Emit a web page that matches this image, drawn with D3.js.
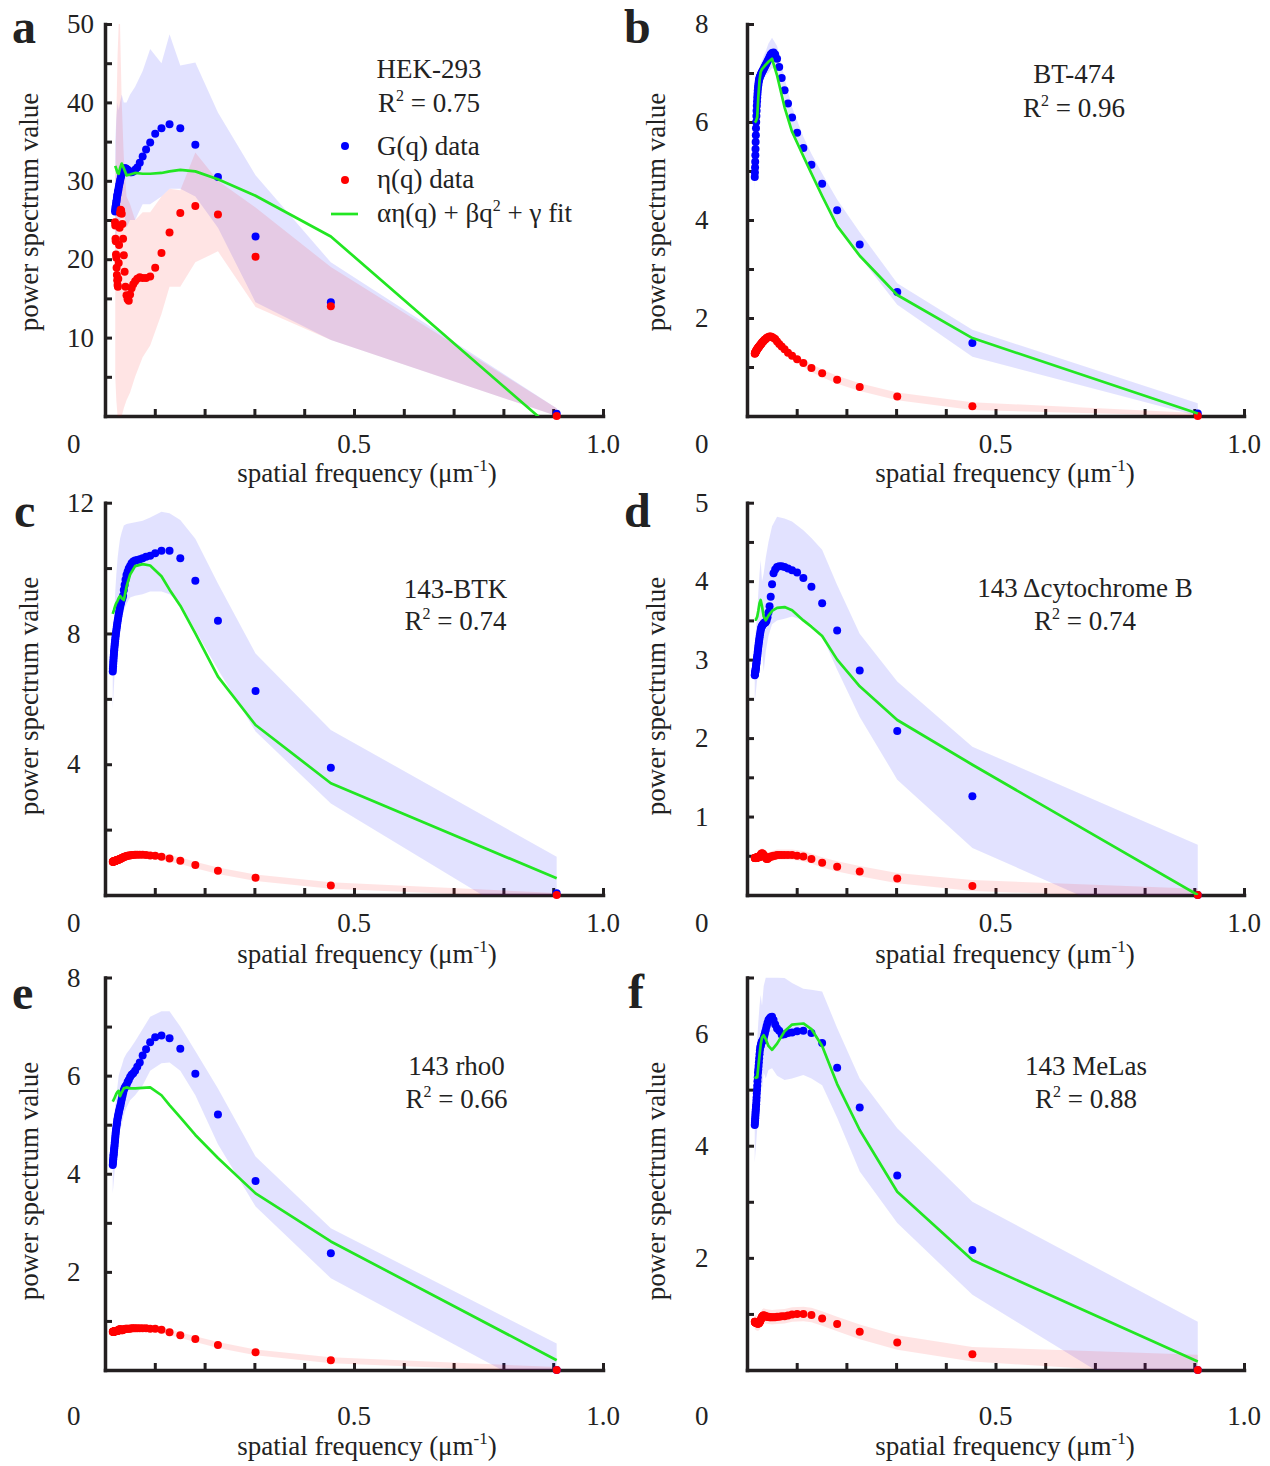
<!DOCTYPE html>
<html><head><meta charset="utf-8">
<script src="https://cdnjs.cloudflare.com/ajax/libs/d3/7.8.5/d3.min.js"></script>
<style>
body{margin:0;background:#fff}
svg{display:block}
text{font-family:"Liberation Serif","Times New Roman",serif;fill:#222}
</style>
</head><body>
<svg id="c" width="1270" height="1466"></svg>
<script>
// ---------- shared spatial-frequency grids (µm^-1) ----------
const Q = [0.907, 0.4535, 0.3023, 0.2268, 0.1814, 0.1512, 0.1296, 0.1134, 0.1008, 0.0907,
 0.0825, 0.0756, 0.0698, 0.0648, 0.0605, 0.0567, 0.0534, 0.0504, 0.0477, 0.0454,
 0.0432, 0.0412, 0.0394, 0.0378, 0.0363, 0.0349, 0.0336, 0.0324, 0.0313, 0.0302,
 0.0293, 0.0283, 0.0275, 0.0267, 0.0259, 0.0252, 0.0245, 0.0239, 0.0233, 0.0227,
 0.0221, 0.0216, 0.0211, 0.0206, 0.0202, 0.0197, 0.0193, 0.0189, 0.0185, 0.0181,
 0.0178, 0.0174, 0.0171, 0.0168, 0.0165, 0.0162, 0.0159, 0.0156];
const QC = [0.0155, 0.0181, 0.0206, 0.0227, 0.0252, 0.0275, 0.0302, 0.0336, 0.0378, 0.0432, 0.0504,
 0.0605, 0.0756, 0.0907, 0.1134, 0.1296, 0.1512, 0.1814, 0.2268, 0.3023, 0.4535, 0.907];
const QC_A = QC.slice(2);
const X_TICKS = [0, 0.1, 0.2, 0.3, 0.4, 0.5, 0.6, 0.7, 0.8, 0.9, 1.0];

// ---------- a: HEK-293 ----------
const A_G = [0.3, 14.5, 22.9, 30.5, 34.6, 36.7, 37.2, 36.7, 36.0, 34.9, 34.0, 33.1, 32.3, 31.7, 31.4,
 31.2, 31.1, 31.1, 31.2, 31.4, 31.5, 31.6, 31.6, 31.5, 31.3, 31.1, 30.9, 30.6, 30.3, 30.0,
 29.7, 29.4, 29.1, 28.8, 28.6, 28.3, 28.1, 27.8, 27.5, 27.3, 27.0, 26.8, 26.6, 26.3, 26.1];
const A_E = [0.0, 14.0, 20.3, 25.7, 26.8, 25.9, 23.4, 20.8, 18.9, 17.8, 17.6, 17.6, 17.7, 17.5, 17.2,
 16.8, 16.3, 15.5, 14.7, 14.9, 15.4, 16.5, 18.4, 20.5, 22.6, 24.5, 25.8, 26.2, 26.3, 25.9,
 24.0, 21.8, 19.5, 17.5, 16.5, 16.7, 17.3, 18.0, 18.9, 20.2, 20.6, 22.3, 22.6, 24.3, 24.7];
const A_FIT = [31.9, 31.5, 31.0, 30.9, 31.6, 32.2, 31.6, 30.7, 30.8, 31.0, 30.9, 30.9, 31.0, 31.2, 31.4, 31.2, 30.2, 28.1, 22.9, -2.1];
const A_G_LO = [20, 23, 24, 24, 25, 26, 26, 24, 25, 25, 27, 27, 28, 29, 29, 28, 24, 14.5, 9.7, 0];
const A_G_HI = [35, 38, 40, 39, 40, 41, 40, 40, 41, 42, 44, 46.8, 45, 48.7, 44.7, 45.1, 38.7, 30.7, 19.6, 1.0];
const A_E_LO = [5, 2, 0, 0, 0, 0, 1, 2, 3, 5, 7.5, 9, 13, 16.5, 16.5, 19.6, 21, 13.9, 9.7, 0];
const A_E_HI = [30, 38, 46, 50, 50, 40, 33, 28, 27, 25, 26, 26, 28, 29, 28.8, 33.6, 30, 26.6, 19, 1.0];

// ---------- b: BT-474 ----------
const B_G = [0.05, 1.49, 2.53, 3.50, 4.20, 4.74, 5.13, 5.47, 5.78, 6.09,
 6.38, 6.65, 6.90, 7.12, 7.29, 7.38, 7.42, 7.41, 7.38, 7.33,
 7.28, 7.24, 7.20, 7.17, 7.14, 7.11, 7.08, 7.06, 7.04, 7.02,
 7.00, 6.98, 6.96, 6.94, 6.92, 6.90, 6.87, 6.84, 6.80, 6.75,
 6.70, 6.64, 6.57, 6.50, 6.42, 6.33, 6.23, 6.12, 6.00, 5.87,
 5.73, 5.59, 5.45, 5.32, 5.19, 5.07, 4.97, 4.88];
const B_E = [0.0, 0.20, 0.40, 0.59, 0.74, 0.87, 0.98, 1.08, 1.16, 1.23,
 1.29, 1.36, 1.42, 1.47, 1.52, 1.57, 1.59, 1.61, 1.62, 1.62,
 1.61, 1.60, 1.59, 1.57, 1.56, 1.55, 1.53, 1.52, 1.51, 1.50,
 1.48, 1.47, 1.46, 1.45, 1.44, 1.43, 1.42, 1.41, 1.41, 1.40,
 1.39, 1.38, 1.37, 1.36, 1.36, 1.35, 1.34, 1.33, 1.33, 1.32,
 1.31, 1.31, 1.30, 1.29, 1.29, 1.28, 1.28, 1.27];
const B_FIT = [5.99, 6.02, 6.1, 6.5, 6.85, 7.02, 7.08, 7.12, 7.17, 7.23, 7.29, 6.95, 6.3, 5.8, 5.3, 4.95, 4.49, 3.88, 3.27, 2.47, 1.59, 0.05];
const B_G_LO = [4.6, 5.6, 6.25, 6.55, 6.7, 6.75, 6.8, 6.85, 6.95, 7.0, 7.1, 7.05, 6.45, 5.85, 5.25, 4.9, 4.5, 3.95, 3.25, 2.27, 1.21, 0];
const B_G_HI = [5.15, 6.1, 6.75, 6.95, 7.1, 7.2, 7.25, 7.35, 7.45, 7.6, 7.72, 7.55, 6.9, 6.3, 5.7, 5.35, 4.95, 4.42, 3.75, 2.71, 1.76, 0.26];
const B_E_LO = [1.19, 1.24, 1.28, 1.32, 1.35, 1.38, 1.42, 1.45, 1.49, 1.53, 1.53, 1.44, 1.28, 1.15, 1.0, 0.9, 0.79, 0.66, 0.51, 0.32, 0.12, 0];
const B_E_HI = [1.35, 1.40, 1.44, 1.48, 1.51, 1.54, 1.58, 1.61, 1.65, 1.69, 1.69, 1.60, 1.44, 1.31, 1.16, 1.06, 0.95, 0.82, 0.67, 0.48, 0.28, 0.06];

// ---------- c: 143-BTK ----------
const C_G = [0.05, 3.89, 6.24, 8.39, 9.61, 10.30, 10.53, 10.53, 10.45, 10.38,
 10.35, 10.30, 10.27, 10.25, 10.23, 10.20, 10.15, 10.06, 9.99, 9.89,
 9.79, 9.64, 9.48, 9.33, 9.15, 9.08, 9.02, 8.95, 8.88, 8.80,
 8.72, 8.65, 8.57, 8.50, 8.43, 8.36, 8.29, 8.22, 8.15, 8.08,
 8.02, 7.95, 7.89, 7.82, 7.76, 7.69, 7.63, 7.56, 7.49, 7.43,
 7.36, 7.29, 7.22, 7.15, 7.07, 7.00, 6.92, 6.84];
const C_E = [0.0, 0.29, 0.53, 0.74, 0.92, 1.05, 1.12, 1.17, 1.20, 1.21,
 1.22, 1.23, 1.23, 1.23, 1.23, 1.22, 1.22, 1.21, 1.21, 1.20,
 1.19, 1.18, 1.17, 1.16, 1.15, 1.14, 1.13, 1.12, 1.11, 1.10,
 1.10, 1.09, 1.08, 1.08, 1.07, 1.07, 1.07, 1.06, 1.06, 1.06,
 1.05, 1.05, 1.05, 1.05, 1.04, 1.04, 1.04, 1.04, 1.03, 1.03,
 1.03, 1.03, 1.03, 1.02, 1.02, 1.02, 1.02, 1.02];
const C_FIT = [8.60, 8.72, 8.85, 8.93, 9.0, 9.08, 9.15, 9.08, 9.02, 9.43, 9.8, 10.06, 10.12, 10.08, 9.75, 9.34, 8.85, 8.0, 6.68, 5.2, 3.42, 0.51];
const C_G_LO = [5.7, 6.4, 7.2, 7.6, 8.0, 8.2, 8.4, 8.5, 8.7, 8.9, 9.1, 9.15, 9.2, 9.28, 9.28, 9.2, 8.9, 8.1, 6.9, 5.0, 2.8, -1.38];
const C_G_HI = [7.6, 8.5, 9.3, 9.8, 10.3, 10.6, 10.9, 11.1, 11.3, 11.35, 11.37, 11.4, 11.45, 11.55, 11.72, 11.68, 11.47, 10.9, 9.53, 7.39, 5.05, 1.17];
const C_E_LO = [0.92, 0.93, 0.95, 0.96, 0.97, 0.98, 1.0, 1.03, 1.06, 1.09, 1.11, 1.13, 1.13, 1.11, 1.07, 1.02, 0.95, 0.82, 0.64, 0.43, 0.19, -0.1];
const C_E_HI = [1.12, 1.13, 1.15, 1.16, 1.17, 1.18, 1.2, 1.23, 1.26, 1.29, 1.31, 1.33, 1.33, 1.31, 1.27, 1.22, 1.15, 1.02, 0.84, 0.63, 0.39, 0.06];

// ---------- d: 143 Δcytochrome B ----------
const D_G = [0.0, 1.26, 2.09, 2.86, 3.37, 3.72, 3.93, 4.04, 4.11, 4.14,
 4.16, 4.18, 4.19, 4.19, 4.18, 4.15, 4.10, 3.96, 3.80, 3.68,
 3.60, 3.54, 3.50, 3.48, 3.47, 3.47, 3.46, 3.45, 3.44, 3.43,
 3.42, 3.40, 3.37, 3.34, 3.31, 3.28, 3.25, 3.22, 3.19, 3.16,
 3.13, 3.10, 3.07, 3.04, 3.02, 3.00, 2.97, 2.95, 2.93, 2.91,
 2.89, 2.88, 2.86, 2.85, 2.84, 2.82, 2.81, 2.80];
const D_E = [0.0, 0.115, 0.21, 0.30, 0.36, 0.41, 0.46, 0.49, 0.50, 0.51,
 0.51, 0.51, 0.51, 0.51, 0.51, 0.50, 0.50, 0.49, 0.49, 0.48,
 0.47, 0.46, 0.46, 0.47, 0.48, 0.50, 0.51, 0.52, 0.53, 0.53,
 0.53, 0.52, 0.51, 0.50, 0.49, 0.49, 0.48, 0.48, 0.48, 0.48,
 0.48, 0.48, 0.48, 0.48, 0.48, 0.48, 0.48, 0.47, 0.47, 0.47,
 0.47, 0.47, 0.47, 0.47, 0.47, 0.47, 0.47, 0.47];
const D_FIT = [3.51, 3.51, 3.55, 3.62, 3.72, 3.76, 3.68, 3.55, 3.50, 3.56, 3.62, 3.66, 3.67, 3.63, 3.5, 3.42, 3.3, 3.0, 2.66, 2.23, 1.66, 0.0];
const D_G_LO = [2.45, 2.6, 2.75, 2.85, 3.0, 3.2, 3.1, 2.85, 3.1, 3.3, 3.45, 3.5, 3.52, 3.55, 3.5, 3.45, 3.3, 2.87, 2.27, 1.47, 0.6, -0.67];
const D_G_HI = [3.2, 3.4, 3.6, 3.85, 4.1, 4.27, 4.0, 4.1, 4.3, 4.5, 4.7, 4.82, 4.8, 4.76, 4.65, 4.55, 4.4, 3.95, 3.33, 2.72, 1.89, 0.64];
const D_E_LO = [0.41, 0.41, 0.42, 0.42, 0.43, 0.45, 0.47, 0.45, 0.41, 0.41, 0.43, 0.45, 0.45, 0.45, 0.43, 0.40, 0.35, 0.30, 0.24, 0.15, 0.05, -0.05];
const D_E_HI = [0.54, 0.54, 0.55, 0.55, 0.56, 0.58, 0.6, 0.58, 0.54, 0.54, 0.56, 0.58, 0.58, 0.58, 0.56, 0.53, 0.48, 0.43, 0.37, 0.28, 0.19, 0.08];

// ---------- e: 143 rho0 ----------
const E_G = [0.0, 2.38, 3.85, 5.21, 6.04, 6.55, 6.76, 6.82, 6.78, 6.68,
 6.54, 6.41, 6.27, 6.18, 6.10, 6.05, 6.02, 5.97, 5.91, 5.87,
 5.81, 5.78, 5.75, 5.70, 5.64, 5.58, 5.52, 5.46, 5.40, 5.36,
 5.32, 5.28, 5.24, 5.20, 5.16, 5.12, 5.08, 5.03, 4.99, 4.94,
 4.89, 4.84, 4.79, 4.74, 4.69, 4.64, 4.59, 4.55, 4.51, 4.48,
 4.44, 4.40, 4.37, 4.33, 4.29, 4.26, 4.22, 4.18];
const E_E = [0.0, 0.20, 0.36, 0.51, 0.63, 0.71, 0.77, 0.82, 0.84, 0.84,
 0.85, 0.85, 0.85, 0.85, 0.85, 0.85, 0.85, 0.84, 0.84, 0.84,
 0.84, 0.84, 0.83, 0.83, 0.82, 0.81, 0.81, 0.82, 0.83, 0.83,
 0.83, 0.82, 0.81, 0.80, 0.80, 0.80, 0.80, 0.80, 0.80, 0.80,
 0.79, 0.79, 0.79, 0.79, 0.79, 0.79, 0.79, 0.79, 0.79, 0.79,
 0.78, 0.78, 0.78, 0.78, 0.78, 0.78, 0.78, 0.78];
const E_FIT = [5.47, 5.52, 5.58, 5.63, 5.67, 5.69, 5.58, 5.66, 5.74, 5.76, 5.74, 5.74, 5.75, 5.76, 5.6, 5.4, 5.15, 4.79, 4.32, 3.6, 2.62, 0.2];
const E_G_LO = [3.6, 3.9, 4.2, 4.4, 4.6, 4.8, 4.9, 5.0, 5.2, 5.35, 5.5, 5.6, 5.8, 6.1, 6.25, 6.27, 6.1, 5.6, 4.6, 3.33, 1.87, -0.6];
const E_G_HI = [4.8, 5.1, 5.4, 5.6, 5.8, 6.0, 6.1, 6.2, 6.35, 6.45, 6.55, 6.7, 6.95, 7.2, 7.31, 7.31, 7.0, 6.5, 5.74, 4.35, 2.89, 0.54];
const E_E_LO = [0.72, 0.73, 0.73, 0.74, 0.74, 0.75, 0.77, 0.75, 0.77, 0.78, 0.78, 0.79, 0.79, 0.78, 0.76, 0.71, 0.65, 0.57, 0.45, 0.30, 0.14, -0.05];
const E_E_HI = [0.84, 0.85, 0.85, 0.86, 0.86, 0.87, 0.89, 0.87, 0.89, 0.9, 0.9, 0.91, 0.91, 0.9, 0.88, 0.83, 0.77, 0.69, 0.57, 0.42, 0.26, 0.06];

// ---------- f: 143 MeLas ----------
const F_G = [0.0, 2.14, 3.47, 4.68, 5.39, 5.83, 6.01, 6.05, 6.04, 6.02,
 6.01, 5.99, 5.98, 6.05, 6.09, 6.16, 6.24, 6.30, 6.29, 6.27,
 6.24, 6.19, 6.13, 6.07, 6.02, 5.97, 5.92, 5.89, 5.87, 5.86,
 5.84, 5.81, 5.78, 5.75, 5.70, 5.63, 5.56, 5.49, 5.42, 5.36,
 5.30, 5.22, 5.15, 5.07, 5.00, 4.93, 4.86, 4.80, 4.74, 4.70,
 4.65, 4.61, 4.57, 4.53, 4.49, 4.45, 4.41, 4.37];
const F_E = [0.0, 0.28, 0.49, 0.68, 0.82, 0.92, 0.98, 1.00, 1.00, 0.99,
 0.97, 0.96, 0.96, 0.95, 0.95, 0.94, 0.94, 0.94, 0.94, 0.94,
 0.95, 0.95, 0.95, 0.96, 0.96, 0.97, 0.97, 0.97, 0.96, 0.95,
 0.93, 0.91, 0.89, 0.87, 0.86, 0.85, 0.84, 0.84, 0.83, 0.83,
 0.83, 0.83, 0.83, 0.83, 0.84, 0.84, 0.84, 0.84, 0.84, 0.84,
 0.85, 0.85, 0.85, 0.85, 0.85, 0.85, 0.86, 0.86];
const F_FIT = [5.23, 5.21, 5.22, 5.4, 5.62, 5.8, 5.93, 5.97, 5.9, 5.78, 5.71, 5.82, 6.04, 6.16, 6.18, 6.08, 5.78, 5.1, 4.28, 3.18, 1.96, 0.15];
const F_G_LO = [3.7, 4.0, 4.3, 4.6, 4.9, 5.1, 5.0, 5.3, 5.2, 5.35, 5.38, 5.25, 5.17, 5.2, 5.26, 5.2, 5.08, 4.5, 3.54, 2.62, 1.34, -1.12];
const F_G_HI = [5.0, 5.4, 5.9, 6.2, 6.5, 6.69, 6.5, 6.85, 7.0, 7.0, 7.0, 7.0, 6.99, 6.9, 6.8, 6.78, 6.75, 6.1, 5.2, 4.31, 3.0, 0.86];
const F_E_LO = [0.73, 0.71, 0.7, 0.7, 0.72, 0.76, 0.82, 0.84, 0.83, 0.82, 0.81, 0.82, 0.83, 0.86, 0.87, 0.85, 0.79, 0.69, 0.55, 0.36, 0.15, -0.1];
const F_E_HI = [0.99, 0.97, 0.96, 0.96, 0.98, 1.02, 1.08, 1.1, 1.09, 1.08, 1.07, 1.08, 1.09, 1.12, 1.13, 1.11, 1.05, 0.95, 0.81, 0.62, 0.41, 0.27];

// ---------- titles / labels ----------
const TITLES = ["HEK-293", "BT-474", "143-BTK", "143 \u0394cytochrome B", "143 rho0", "143 MeLas"];
const R2 = ["0.75", "0.96", "0.74", "0.74", "0.66", "0.88"];
const LETTERS = ["a", "b", "c", "d", "e", "f"];
const Y_MAX = [50, 8, 12, 5, 8, 7];
const Y_STEP = [5, 1, 2, 0.5, 1, 1];
const Y_LABELS = [[10, 20, 30, 40, 50], [2, 4, 6, 8], [4, 8, 12], [1, 2, 3, 4, 5], [2, 4, 6, 8], [2, 4, 6]];
const X_LABELS = ["0.5", "1.0"];
const LEGEND = ["G(q) data", "\u03b7(q) data"];

// ---------- layout (positions only) ----------
const COLS = [{x0:105, x1:603, lab:67, ytx:30, xtx:367}, {x0:747, x1:1244, lab:695, ytx:657, xtx:1005}];
const ROWS = [{y0:416, y1:24, xlb:453, xtb:482, ytc:212},
              {y0:895, y1:502.7, xlb:932, xtb:963, ytc:696},
              {y0:1370, y1:977.5, xlb:1425, xtb:1455, ytc:1181}];
const LETTER_POS = [[12,43],[624,43],[14,527],[624,527],[12,1009],[628,1008]];
const ANNOT_POS = [[429,78,111.5],[1074,83,116.7],[455.5,598.3,630],[1085,596.7,630],[456.5,1075,1108.3],[1086,1075,1108.3]];

const PANELS = [
  {G:A_G, E:A_E, qc:QC_A, fit:A_FIT, gl:A_G_LO, gh:A_G_HI, el:A_E_LO, eh:A_E_HI},
  {G:B_G, E:B_E, qc:QC, fit:B_FIT, gl:B_G_LO, gh:B_G_HI, el:B_E_LO, eh:B_E_HI},
  {G:C_G, E:C_E, qc:QC, fit:C_FIT, gl:C_G_LO, gh:C_G_HI, el:C_E_LO, eh:C_E_HI},
  {G:D_G, E:D_E, qc:QC, fit:D_FIT, gl:D_G_LO, gh:D_G_HI, el:D_E_LO, eh:D_E_HI},
  {G:E_G, E:E_E, qc:QC, fit:E_FIT, gl:E_G_LO, gh:E_G_HI, el:E_E_LO, eh:E_E_HI},
  {G:F_G, E:F_E, qc:QC, fit:F_FIT, gl:F_G_LO, gh:F_G_HI, el:F_E_LO, eh:F_E_HI}
];

const svg = d3.select("#c");
const AX = "#231f20", BLUE = "#0000ff", RED = "#ff0000", GREEN = "#22e622";
const FS = 27, DOT_R = 4;

PANELS.forEach((P, i) => {
  const c = COLS[i % 2], r = ROWS[Math.floor(i / 2)];
  const x = d3.scaleLinear().domain([0, 1]).range([c.x0, c.x1]);
  const y = d3.scaleLinear().domain([0, Y_MAX[i]]).range([r.y0, r.y1]);
  const g = svg.append("g");

  const cid = "clip" + i;
  svg.append("defs").append("clipPath").attr("id", cid)
    .append("rect").attr("x", c.x0).attr("y", r.y1).attr("width", c.x1 - c.x0).attr("height", r.y0 - r.y1);

  // axes
  const yt = d3.range(0, Y_MAX[i] + 1e-9, Y_STEP[i]);
  const gy = g.append("g").attr("transform", `translate(${c.x0},0)`)
    .call(d3.axisRight(y).tickValues(yt).tickSize(7).tickSizeOuter(0).tickFormat(""));
  const gx = g.append("g").attr("transform", `translate(0,${r.y0})`)
    .call(d3.axisTop(x).tickValues(X_TICKS).tickSize(7).tickSizeOuter(0).tickFormat(""));
  [gy, gx].forEach(a => {
    a.select(".domain").attr("stroke", AX).attr("stroke-width", 3.5).attr("stroke-linecap", "square");
    a.selectAll(".tick line").attr("stroke", AX).attr("stroke-width", 3);
  });

  // tick labels
  Y_LABELS[i].forEach(v => {
    g.append("text").attr("x", c.lab).attr("y", y(v)).attr("dy", "0.34em")
      .attr("font-size", FS).attr("fill", "#333").text(v);
  });
  g.append("text").attr("x", c.lab).attr("y", r.xlb).attr("font-size", FS).attr("fill", "#333").text("0");
  [0.5, 1.0].forEach((v, k) => {
    g.append("text").attr("x", x(v)).attr("y", r.xlb).attr("text-anchor", "middle")
      .attr("font-size", FS).attr("fill", "#333").text(X_LABELS[k]);
  });

  // axis titles
  const xt = g.append("text").attr("x", c.xtx).attr("y", r.xtb).attr("text-anchor", "middle").attr("font-size", FS);
  xt.append("tspan").text("spatial frequency (\u03bcm");
  xt.append("tspan").attr("font-size", 17).attr("dy", -11).text("-1");
  xt.append("tspan").attr("dy", 11).text(")");
  g.append("text").attr("transform", `translate(${c.ytx},${r.ytc}) rotate(-90)`)
    .attr("text-anchor", "middle").attr("dy", "0.3em").attr("font-size", FS).text("power spectrum value");

  // panel letter
  g.append("text").attr("x", LETTER_POS[i][0]).attr("y", LETTER_POS[i][1])
    .attr("font-size", 48).attr("font-weight", "bold").attr("fill", "#111").text(LETTERS[i]);

  // annotations
  const ap = ANNOT_POS[i];
  g.append("text").attr("x", ap[0]).attr("y", ap[1]).attr("text-anchor", "middle").attr("font-size", FS).text(TITLES[i]);
  const rt = g.append("text").attr("x", ap[0]).attr("y", ap[2]).attr("text-anchor", "middle").attr("font-size", FS);
  rt.append("tspan").text("R");
  rt.append("tspan").attr("font-size", 16).attr("dy", -11).text("2");
  rt.append("tspan").attr("dy", 11).text(" = " + R2[i]);

  // bands
  const band = (lo, hi) => P.qc.map((q, k) => ({q, lo: lo[k], hi: hi[k]}));
  const area = d3.area().x(d => x(d.q)).y0(d => y(d.lo)).y1(d => y(d.hi));
  const dg = g.append("g").attr("clip-path", `url(#${cid})`);
  dg.append("path").datum(band(P.gl, P.gh)).attr("d", area).attr("fill", BLUE).attr("fill-opacity", 0.115);
  dg.append("path").datum(band(P.el, P.eh)).attr("d", area).attr("fill", RED).attr("fill-opacity", 0.105);

  // dots
  g.append("g").selectAll("circle").data(P.G.map((v, k) => ({q: Q[k], v}))).join("circle")
    .attr("cx", d => x(d.q)).attr("cy", d => y(d.v)).attr("r", DOT_R).attr("fill", BLUE);
  g.append("g").selectAll("circle").data(P.E.map((v, k) => ({q: Q[k], v}))).join("circle")
    .attr("cx", d => x(d.q)).attr("cy", d => y(d.v)).attr("r", DOT_R).attr("fill", RED);

  // fit line
  const line = d3.line().x(d => x(d.q)).y(d => y(d.v));
  g.append("g").attr("clip-path", `url(#${cid})`).append("path")
    .datum(P.qc.map((q, k) => ({q, v: P.fit[k]})))
    .attr("d", line).attr("fill", "none").attr("stroke", GREEN).attr("stroke-width", 2.7).attr("stroke-linejoin", "round");

  // legend (panel a only)
  if (i === 0) {
    const lg = g.append("g");
    lg.append("circle").attr("cx", 345).attr("cy", 146).attr("r", DOT_R).attr("fill", BLUE);
    lg.append("circle").attr("cx", 345).attr("cy", 180).attr("r", DOT_R).attr("fill", RED);
    lg.append("line").attr("x1", 331).attr("x2", 358).attr("y1", 214).attr("y2", 214)
      .attr("stroke", GREEN).attr("stroke-width", 2.7);
    lg.append("text").attr("x", 377).attr("y", 155).attr("font-size", FS).text(LEGEND[0]);
    lg.append("text").attr("x", 377).attr("y", 188).attr("font-size", FS).text(LEGEND[1]);
    const ft = lg.append("text").attr("x", 377).attr("y", 222).attr("font-size", FS);
    ft.append("tspan").text("\u03b1\u03b7(q) + \u03b2q");
    ft.append("tspan").attr("font-size", 16).attr("dy", -11).text("2");
    ft.append("tspan").attr("dy", 11).text(" + \u03b3 fit");
  }
});
</script>
</body></html>
